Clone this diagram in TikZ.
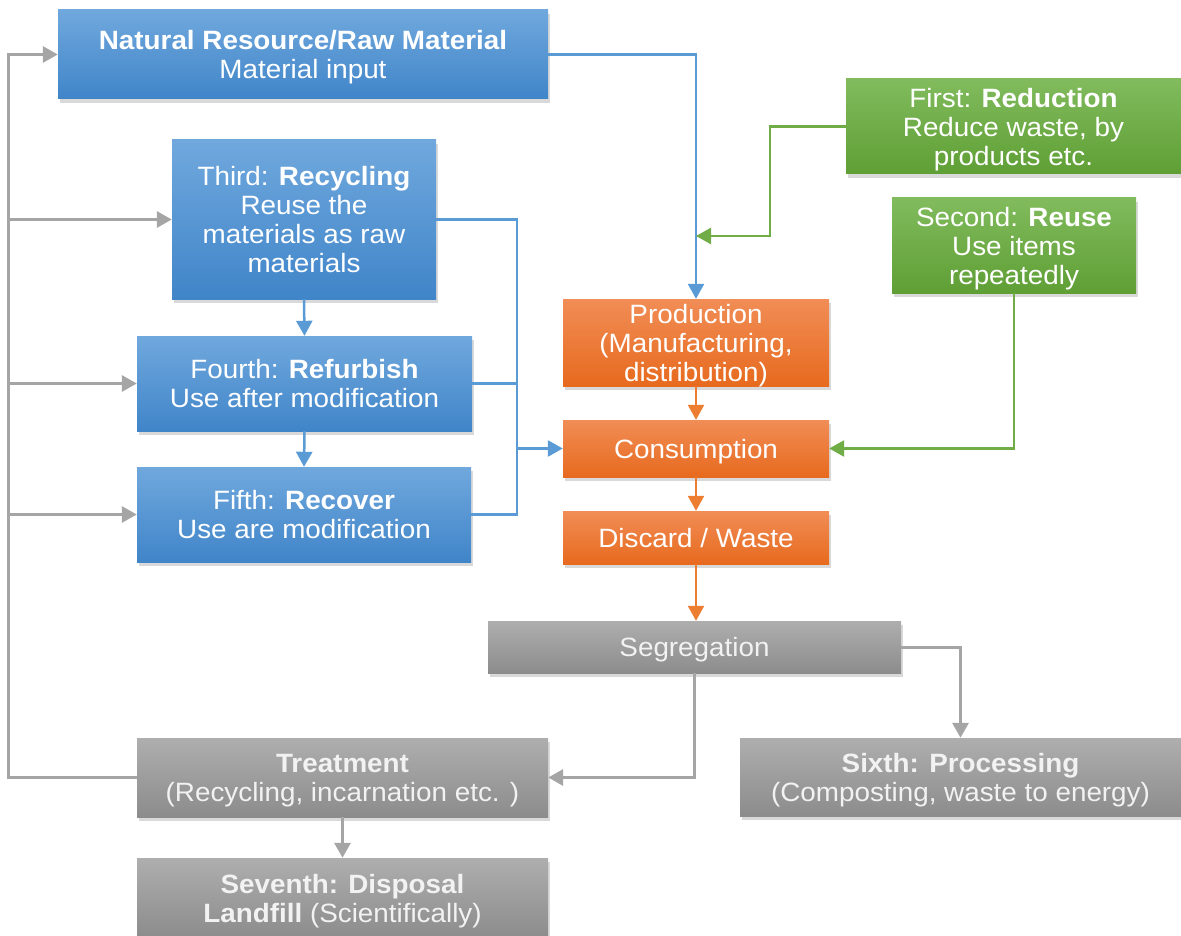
\documentclass[tikz,border=0pt]{standalone}
\usepackage{fontspec}
\setmainfont{Liberation Sans}[FakeStretch=1.05]
\usetikzlibrary{arrows.meta,shadows}

\definecolor{bluetop}{RGB}{112,168,221}
\definecolor{bluebot}{RGB}{64,133,201}
\definecolor{orangetop}{RGB}{241,141,86}
\definecolor{orangebot}{RGB}{231,106,30}
\definecolor{greentop}{RGB}{129,187,93}
\definecolor{greenbot}{RGB}{95,159,53}
\definecolor{graytop}{RGB}{174,174,174}
\definecolor{graybot}{RGB}{140,140,140}
\definecolor{blueline}{RGB}{91,155,213}
\definecolor{orangeline}{RGB}{237,125,49}
\definecolor{greenline}{RGB}{112,173,71}
\definecolor{grayline}{RGB}{165,165,165}

\begin{document}
\begin{tikzpicture}[x=1pt, y=-1pt,
   every node/.style={inner sep=2pt, align=center, text=white, text depth=0pt,
                      font=\fontsize{26.5}{29}\selectfont},
   box/.style={drop shadow={shadow xshift=2pt, shadow yshift=-4pt, opacity=0.3}},
   bluebox/.style={box, top color=bluetop, bottom color=bluebot},
   orangebox/.style={box, top color=orangetop, bottom color=orangebot},
   greenbox/.style={box, top color=greentop, bottom color=greenbot},
   graybox/.style={box, top color=graytop, bottom color=graybot, text=white!95!black},
   link/.style={line width=2.5pt, -{Triangle[width=16pt,length=15pt]}},
   plain/.style={line width=2.5pt},
   graylink/.style={link, grayline, line width=3pt}]

\useasboundingbox (0,0) rectangle (1181,936);

% hierarchy on the left
\node[bluebox, minimum width=490pt, minimum height=89pt] (nat) at (303,54.5)
    {\textbf{Natural Resource/Raw Material}\\Material input};
\node[bluebox, minimum width=264pt, minimum height=159pt] (rec) at (304,219.5)
    {Third: \textbf{Recycling}\\Reuse the\\materials as raw\\materials};
\node[bluebox, minimum width=335pt, minimum height=95pt] (ref) at (304.5,383.5)
    {Fourth: \textbf{Refurbish}\\Use after modification};
\node[bluebox, minimum width=334pt, minimum height=95pt] (cov) at (304,514.5)
    {Fifth: \textbf{Recover}\\Use are modification};

% first and second
\node[greenbox, minimum width=335pt, minimum height=95pt] (red) at (1013.5,126.5)
    {First: \textbf{Reduction}\\Reduce waste, by\\products etc.};
\node[greenbox, minimum width=244pt, minimum height=95pt] (reu) at (1014,245.5)
    {Second: \textbf{Reuse}\\Use items\\repeatedly};

% main flow
\node[orangebox, minimum width=266pt, minimum height=87pt] (prod) at (696,342.5)
    {Production\\(Manufacturing,\\distribution)};
\node[orangebox, minimum width=266pt, minimum height=57pt] (cons) at (696,448.5)
    {Consumption};
\node[orangebox, minimum width=266pt, minimum height=53pt] (dis) at (696,537.5)
    {Discard / Waste};
\node[graybox, minimum width=413pt, minimum height=52pt] (seg) at (694.5,647)
    {Segregation};
\node[graybox, minimum width=441pt, minimum height=78pt] (six) at (960.5,777)
    {\textbf{Sixth: Processing}\\(Composting, waste to energy)};
\node[graybox, minimum width=411pt, minimum height=79pt] (trt) at (342.5,777.5)
    {\textbf{Treatment}\\(Recycling, incarnation etc. )};
\node[graybox, minimum width=411pt, minimum height=80pt] (dsp) at (342.5,898)
    {\textbf{Seventh: Disposal}\\\textbf{Landfill} (Scientifically)};

\coordinate (gj) at (696,236);
\coordinate (gk) at (770,126.5);
\coordinate (bj) at (517,448.5);
\coordinate (lp) at (8,777.5);

% blue links
\draw[link, blueline] (nat.east) -| (prod.north);
\draw[link, blueline] (rec.south) -- (ref.north);
\draw[link, blueline] (ref.south) -- (cov.north);
\draw[plain, blueline] (rec.east) -| (bj);
\draw[plain, blueline] (ref.east) -- (ref.east -| bj);
\draw[plain, blueline] (cov.east) -| (bj);
\draw[link, blueline] (bj) -- (cons.west);

% green links
\draw[link, greenline] (red.west) -- (gk) |- (gj);
\draw[link, greenline] (reu.south) |- (cons.east);

% orange links
\draw[link, orangeline] (prod.south) -- (cons.north);
\draw[link, orangeline] (cons.south) -- (dis.north);
\draw[link, orangeline] (dis.south) -- (seg.north -| dis.south);

% gray links
\draw[graylink] (seg.east) -| (six.north);
\draw[graylink] (seg.south) |- (trt.east);
\draw[graylink] (trt.south) -- (dsp.north);
\draw[graylink] (trt.west) -- (lp) |- (nat.west);
\draw[graylink] (lp |- rec.west) -- (rec.west);
\draw[graylink] (lp |- ref.west) -- (ref.west);
\draw[graylink] (lp |- cov.west) -- (cov.west);

\end{tikzpicture}
\end{document}
